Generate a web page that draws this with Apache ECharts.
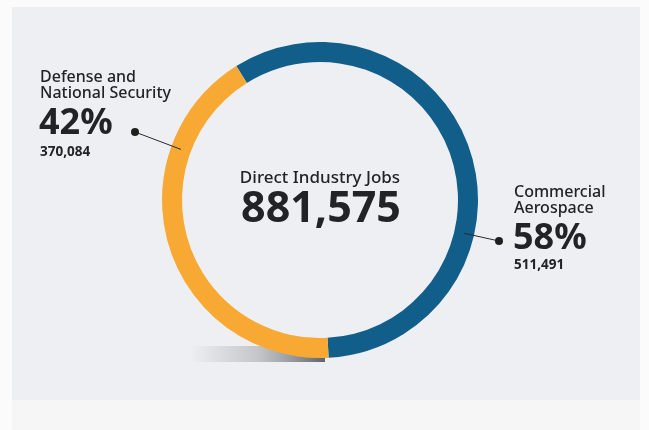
<!DOCTYPE html>
<html>
<head>
<meta charset="utf-8">
<style>
  html, body { margin: 0; padding: 0; background: #fbfbfb; }
  #chart { width: 649px; height: 430px; }
</style>
<script src="https://cdn.jsdelivr.net/npm/echarts@6/dist/echarts.min.js"></script>
</head>
<body>
<div id="chart"></div>
<script>
// Segments of the ring (clockwise from the upper left)
const categories = ['Commercial Aerospace', 'Defense and National Security'];
const labelLines = [['Commercial', 'Aerospace'], ['Defense and', 'National Security']];
const jobs = [511491, 370084];
const colors = ['#125e8a', '#f8a933'];
const centerTitle = 'Direct Industry Jobs';

const total = jobs.reduce((a, b) => a + b, 0);
const fmt = n => n.toLocaleString('en-US');
const pct = n => Math.round(n / total * 100) + '%';

const CX = 320, CY = 200, R_IN = 138, R_OUT = 158;
const FONT = '"Noto Sans", "Open Sans", sans-serif';
const INK = '#222326';

const chart = echarts.init(document.getElementById('chart'), null, { renderer: 'canvas' });

// point on the middle of the ring at a clock angle (degrees clockwise from 12 o'clock)
function ringPoint(deg) {
  const r = (R_IN + R_OUT) / 2;
  const a = deg * Math.PI / 180;
  return [CX + r * Math.sin(a), CY - r * Math.cos(a)];
}

// name, share and count beside the ring, tied to it by a thin leader with a dot
function callout(i, textX, ys, dot, anchorDeg) {
  const p = ringPoint(anchorDeg);
  return [
    { type: 'line', z: 5, shape: { x1: p[0], y1: p[1], x2: dot[0], y2: dot[1] },
      style: { stroke: '#2b2b2b', lineWidth: 1 } },
    { type: 'circle', z: 5, shape: { cx: dot[0], cy: dot[1], r: 4 }, style: { fill: '#1f1f1f' } },
    { type: 'text', z: 5, x: textX, y: ys[0],
      style: { text: labelLines[i][0], font: '500 16px ' + FONT, fill: INK, verticalAlign: 'top' } },
    { type: 'text', z: 5, x: textX, y: ys[1],
      style: { text: labelLines[i][1], font: '500 16px ' + FONT, fill: INK, verticalAlign: 'top' } },
    { type: 'text', z: 5, x: textX - 1, y: ys[2],
      style: { text: pct(jobs[i]), font: 'bold 36px ' + FONT, fill: INK, verticalAlign: 'top' } },
    { type: 'text', z: 5, x: textX, y: ys[3],
      style: { text: fmt(jobs[i]), font: 'bold 13.5px ' + FONT, fill: INK, verticalAlign: 'top' } }
  ];
}

chart.setOption({
  backgroundColor: '#fbfbfb',
  animation: false,
  graphic: [
    { type: 'rect', z: 0, shape: { x: 12, y: 7, width: 628, height: 393 }, style: { fill: '#eeeff2' } },
    { type: 'rect', z: 0, shape: { x: 12, y: 400, width: 628, height: 30 }, style: { fill: '#f5f6f5' } },
    // soft floor shadow under the ring
    { type: 'rect', z: 1, shape: { x: 190, y: 346, width: 135, height: 16 },
      style: { fill: new echarts.graphic.LinearGradient(0, 0, 1, 0, [
        { offset: 0, color: 'rgba(120,122,128,0)' },
        { offset: 0.5, color: 'rgba(120,122,128,0.35)' },
        { offset: 1, color: 'rgba(70,74,82,0.85)' }
      ]) } },
    { type: 'text', z: 5, x: CX, y: 170,
      style: { text: centerTitle, font: '500 17px ' + FONT, fill: INK, align: 'center', verticalAlign: 'top' } },
    { type: 'text', z: 5, x: CX + 1, y: 188,
      style: { text: fmt(total), font: 'bold 43px ' + FONT, fill: INK, align: 'center', verticalAlign: 'top' } },
    ...callout(0, 514, [184, 200, 221, 258], [499, 241], 103),
    ...callout(1, 40, [69, 85, 106, 145], [135, 132], 290)
  ],
  series: [{
    type: 'pie',
    z: 2,
    silent: true,
    center: [CX, CY],
    radius: [R_IN, R_OUT],
    startAngle: 122,
    clockwise: true,
    label: { show: false },
    labelLine: { show: false },
    itemStyle: { borderWidth: 0 },
    data: categories.map((name, i) => ({ name, value: jobs[i], itemStyle: { color: colors[i] } }))
  }]
});
</script>
</body>
</html>
